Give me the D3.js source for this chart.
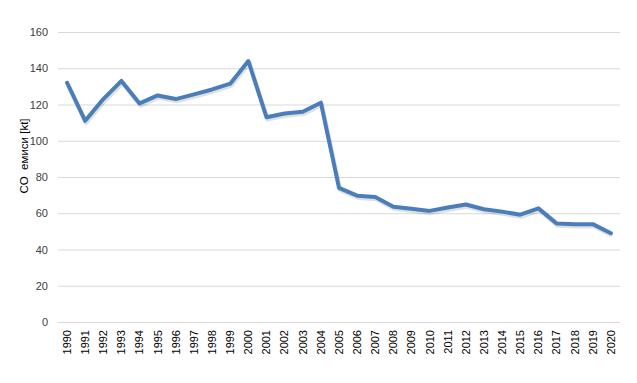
<!DOCTYPE html>
<html><head><meta charset="utf-8">
<script src="https://cdn.jsdelivr.net/npm/d3@7"></script>
<style>body{margin:0;background:#fff}svg{display:block}</style>
</head><body>
<script>
const years = ["1990","1991","1992","1993","1994","1995","1996","1997","1998","1999","2000","2001","2002","2003","2004","2005","2006","2007","2008","2009","2010","2011","2012","2013","2014","2015","2016","2017","2018","2019","2020"];
const emissions = [132,111,123,133,120.6,125,123,125.6,128.3,131.5,144,113,115,116,121,74,69.7,69,63.6,62.5,61.3,63.2,64.8,62.2,60.9,59.2,62.7,54.4,53.9,54,49];
const yTicks = [0,20,40,60,80,100,120,140,160];
const yTitle = "CO  емиси [kt]";

const W = 637, H = 383;
const m = {left:58, right:17, top:32, bottom:61};
const svg = d3.select("body").append("svg").attr("width",W).attr("height",H);
const x = d3.scaleBand().domain(years).range([m.left, W-m.right]);
const y = d3.scaleLinear().domain([0,160]).range([H-m.bottom, m.top]);

// gridlines
svg.append("g").selectAll("line").data(yTicks).join("line")
  .attr("x1", m.left).attr("x2", W-m.right)
  .attr("y1", d=>y(d)+0.5).attr("y2", d=>y(d)+0.5)
  .attr("stroke","#d9d9d9").attr("stroke-width",1);

// y axis labels
const ya = svg.append("g").attr("transform",`translate(${m.left-10},0)`)
  .call(d3.axisLeft(y).tickValues(yTicks).tickSize(0).tickPadding(0));
ya.select(".domain").remove();
ya.selectAll("text").attr("font-family","Liberation Sans, Arial, sans-serif").attr("font-size",11).attr("fill","#404040");

// x axis labels
const xa = svg.append("g").attr("transform",`translate(0,${H-m.bottom})`)
  .call(d3.axisBottom(x).tickSize(0).tickPadding(0));
xa.select(".domain").remove();
xa.selectAll("text")
  .attr("font-family","Liberation Sans, Arial, sans-serif").attr("font-size",11).attr("fill","#000")
  .attr("text-anchor","end").attr("dy","0.35em")
  .attr("transform","translate(0,8) rotate(-90)").attr("x",0).attr("y",0);

// y title
svg.append("text").attr("transform",`translate(28,${(y(0)+y(160))/2 - 21}) rotate(-90)`)
  .attr("text-anchor","middle").attr("font-family","Liberation Sans, Arial, sans-serif")
  .attr("font-size",11.5).attr("fill","#000").attr("xml:space","preserve").style("white-space","pre").text(yTitle);

const line = d3.line().x((d,i)=>x(years[i])+x.bandwidth()/2).y(d=>y(d));
// shadow
svg.append("path").datum(emissions).attr("d",line).attr("fill","none")
  .attr("stroke","rgba(0,0,0,0.12)").attr("stroke-width",4.5).attr("stroke-linejoin","round")
  .attr("transform","translate(1,2)");
svg.append("path").datum(emissions).attr("d",line).attr("fill","none")
  .attr("stroke","#4a7ebb").attr("stroke-width",4).attr("stroke-linejoin","round").attr("stroke-linecap","round");
</script>
</body></html>
